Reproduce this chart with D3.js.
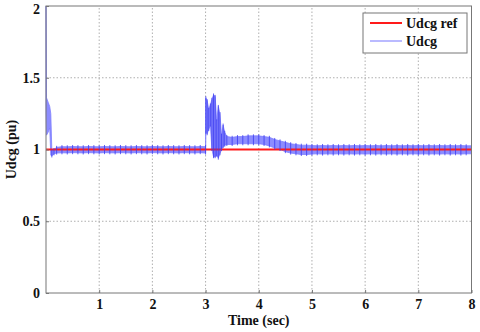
<!DOCTYPE html>
<html>
<head>
<meta charset="utf-8">
<script src="https://cdn.jsdelivr.net/npm/d3@7"></script>
<style>
  html, body { margin: 0; padding: 0; background: #fff; }
  svg { display: block; font-family: "Liberation Serif", "Times New Roman", serif; }
</style>
</head>
<body>
<div id="chart"></div>
<script>
// Udcg envelope: time (s), lower edge, upper edge (pu)
const udcgTime = [
  0, 0.01, 0.04, 0.07, 0.09, 0.11, 0.15,
  0.2, 0.3, 0.4, 0.5, 0.6, 0.7, 0.8, 0.9, 1.0, 1.1, 1.2, 1.3, 1.4, 1.5, 1.6, 1.7, 1.8, 1.9,
  2.0, 2.1, 2.2, 2.3, 2.4, 2.5, 2.6, 2.7, 2.8, 2.9, 3.0,
  3.005, 3.03, 3.06, 3.09, 3.12, 3.15, 3.18, 3.21, 3.24, 3.27, 3.30, 3.33, 3.36,
  3.4, 3.5, 3.6, 3.7, 3.8, 3.9, 4.0, 4.1, 4.2, 4.3, 4.4, 4.5, 4.6, 4.7, 4.8, 4.9,
  5.0, 5.1, 5.2, 5.3, 5.4, 5.5, 5.6, 5.7, 5.8, 5.9, 6.0, 6.1, 6.2, 6.3, 6.4, 6.5,
  6.6, 6.7, 6.8, 6.9, 7.0, 7.1, 7.2, 7.3, 7.4, 7.5, 7.6, 7.7, 7.8, 7.9, 8.0
];
const udcgLow = [
  1.30, 1.10, 1.12, 1.15, 0.96, 0.955, 0.97,
  0.975, 0.977, 0.976, 0.978, 0.977, 0.976, 0.978, 0.977, 0.976, 0.978, 0.977, 0.976, 0.978, 0.977, 0.976, 0.978, 0.977, 0.976,
  0.978, 0.977, 0.976, 0.978, 0.977, 0.976, 0.978, 0.977, 0.976, 0.978, 0.975,
  1.12, 1.11, 1.14, 1.17, 1.00, 0.95, 0.95, 0.96, 0.94, 0.97, 1.00, 1.02, 1.03,
  1.035, 1.035, 1.04, 1.04, 1.04, 1.04, 1.04, 1.035, 1.025, 1.01, 1.00, 0.985, 0.975, 0.97, 0.965, 0.965,
  0.968, 0.97, 0.968, 0.97, 0.968, 0.97, 0.968, 0.97, 0.968, 0.97, 0.968, 0.97, 0.968, 0.97, 0.968, 0.97,
  0.968, 0.97, 0.968, 0.97, 0.968, 0.97, 0.968, 0.97, 0.968, 0.97, 0.968, 0.97, 0.968, 0.97, 0.97
];
const udcgHigh = [
  2.00, 1.36, 1.33, 1.30, 1.25, 0.99, 1.00,
  1.015, 1.02, 1.019, 1.021, 1.02, 1.019, 1.021, 1.02, 1.019, 1.021, 1.02, 1.019, 1.021, 1.02, 1.019, 1.021, 1.02, 1.019,
  1.021, 1.02, 1.019, 1.021, 1.02, 1.019, 1.021, 1.02, 1.019, 1.021, 1.02,
  1.36, 1.34, 1.28, 1.31, 1.35, 1.38, 1.37, 1.20, 1.30, 1.25, 1.10, 1.17, 1.12,
  1.09, 1.085, 1.09, 1.09, 1.095, 1.095, 1.095, 1.09, 1.085, 1.07, 1.06, 1.05, 1.04, 1.035, 1.03, 1.03,
  1.028, 1.026, 1.028, 1.026, 1.028, 1.026, 1.028, 1.026, 1.028, 1.026, 1.028, 1.026, 1.028, 1.026, 1.028, 1.026,
  1.028, 1.026, 1.028, 1.026, 1.028, 1.026, 1.028, 1.026, 1.028, 1.026, 1.028, 1.026, 1.028, 1.026, 1.026
];
const refTime = [0, 8];
const refValue = [1, 1];

const xTicks = [1, 2, 3, 4, 5, 6, 7, 8];
const yTicks = [0, 0.5, 1, 1.5, 2];
const yTickLabels = ["0", "0.5", "1", "1.5", "2"];
const legendLabels = ["Udcg ref", "Udcg"];

const width = 480, height = 332;
const margin = { top: 6, right: 8.5, bottom: 39, left: 46 };

const svg = d3.select("#chart").append("svg")
  .attr("width", width).attr("height", height);

const x = d3.scaleLinear().domain([0, 8]).range([margin.left, width - margin.right]);
const y = d3.scaleLinear().domain([0, 2]).range([height - margin.bottom, margin.top]);

// grid
svg.append("g").selectAll("line")
  .data(xTicks.slice(0, -1))
  .join("line")
  .attr("x1", (d) => x(d)).attr("x2", (d) => x(d))
  .attr("y1", y(0)).attr("y2", y(2))
  .attr("stroke", "#9a9a9a").attr("stroke-width", 0.8).attr("stroke-dasharray", "1.5,2");
svg.append("g").selectAll("line")
  .data(yTicks.slice(1, -1))
  .join("line")
  .attr("x1", x(0)).attr("x2", x(8))
  .attr("y1", (d) => y(d)).attr("y2", (d) => y(d))
  .attr("stroke", "#9a9a9a").attr("stroke-width", 0.8).attr("stroke-dasharray", "1.5,2");

const udcg = udcgTime.map((t, i) => ({ t, lo: udcgLow[i], hi: udcgHigh[i] }));

// ripple band
svg.append("path")
  .datum(udcg)
  .attr("d", d3.area().x((d) => x(d.t)).y0((d) => y(d.lo)).y1((d) => y(d.hi)))
  .attr("fill", "#8c8cff")
  .attr("stroke", "#7f7fff")
  .attr("stroke-width", 0.8);

// reference
const ref = refTime.map((t, i) => ({ t, v: refValue[i] }));
svg.append("path")
  .datum(ref)
  .attr("d", d3.line().x((d) => x(d.t)).y((d) => y(d.v)))
  .attr("fill", "none")
  .attr("stroke", "#ff1a1a")
  .attr("stroke-width", 2);

// ripple stripes
svg.append("g").selectAll("line")
  .data(udcg.filter((d) => d.t > 0.1))
  .join("line")
  .attr("x1", (d) => x(d.t)).attr("x2", (d) => x(d.t))
  .attr("y1", (d) => y(d.lo) + 1.5).attr("y2", (d) => y(d.hi) - 1.5)
  .attr("stroke", "#3b3bf0")
  .attr("stroke-opacity", 0.8)
  .attr("stroke-width", 1);

// axes box
svg.append("rect")
  .attr("x", x(0)).attr("y", y(2))
  .attr("width", x(8) - x(0)).attr("height", y(0) - y(2))
  .attr("fill", "none").attr("stroke", "#777").attr("stroke-width", 1);

const xAxis = svg.append("g")
  .attr("transform", `translate(0,${y(0)})`)
  .call(d3.axisBottom(x).tickValues(xTicks).tickSize(-3).tickPadding(6));
const yAxis = svg.append("g")
  .attr("transform", `translate(${x(0)},0)`)
  .call(d3.axisLeft(y).tickValues(yTicks).tickFormat((d, i) => yTickLabels[i]).tickSize(-3).tickPadding(6));

[xAxis, yAxis].forEach((g) => {
  g.select(".domain").remove();
  g.selectAll(".tick line").attr("stroke", "#777");
  g.selectAll("text")
    .attr("font-family", "Liberation Serif, Times New Roman, serif")
    .attr("font-size", 14).attr("font-weight", "bold").attr("fill", "#111");
});
xAxis.selectAll("text").attr("dy", "0.71em");
yAxis.select(".tick:last-of-type text").attr("dy", "0.55em");

svg.append("text")
  .attr("x", (x(0) + x(8)) / 2).attr("y", 325)
  .attr("text-anchor", "middle")
  .attr("font-size", 14).attr("font-weight", "bold").attr("fill", "#111")
  .text("Time (sec)");

svg.append("text")
  .attr("transform", `translate(16,${y(1)}) rotate(-90)`)
  .attr("text-anchor", "middle")
  .attr("font-size", 14).attr("font-weight", "bold").attr("fill", "#111")
  .text("Udcg (pu)");

// legend
const legend = svg.append("g").attr("transform", "translate(363,13)");
legend.append("rect")
  .attr("width", 104).attr("height", 40)
  .attr("fill", "#fff").attr("stroke", "#777").attr("stroke-width", 1);
const legendColors = ["#ff1a1a", "#8c8cff"];
legendLabels.forEach((label, i) => {
  const ly = 10 + i * 18;
  legend.append("line")
    .attr("x1", 7).attr("x2", 39).attr("y1", ly).attr("y2", ly)
    .attr("stroke", legendColors[i]).attr("stroke-width", i === 0 ? 2 : 1.2);
  legend.append("text")
    .attr("x", 43).attr("y", ly + 5)
    .attr("font-size", 14).attr("font-weight", "bold").attr("fill", "#111")
    .text(label);
});
</script>
</body>
</html>
